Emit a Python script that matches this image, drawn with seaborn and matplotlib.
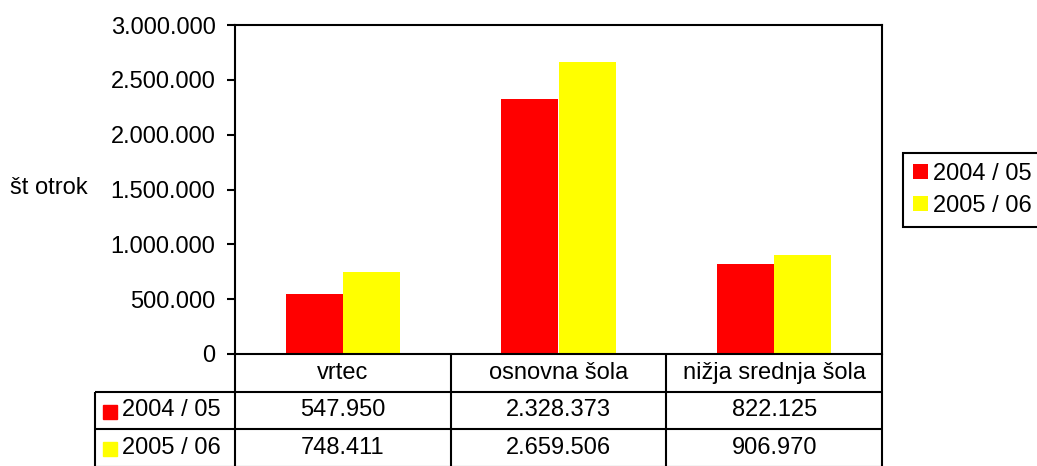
import matplotlib
matplotlib.use("Agg")
import matplotlib.pyplot as plt
from matplotlib.ticker import FuncFormatter
import pandas as pd
import seaborn as sns

# data
categories = ["vrtec", "osnovna šola", "nižja srednja šola"]
years = ["2004 / 05", "2005 / 06"]
values_2004 = [547950, 2328373, 822125]
values_2005 = [748411, 2659506, 906970]
colors = ["#FF0000", "#FFFF00"]

rows = []
for year, vals in zip(years, [values_2004, values_2005]):
    for cat, v in zip(categories, vals):
        rows.append({"stopnja": cat, "leto": year, "otroci": v})
df = pd.DataFrame(rows)


def dots(v, pos=None):
    # thousands separated with dots, like the original
    return f"{int(round(v)):,}".replace(",", ".")


sns.set_theme(style="white")
plt.rcParams["font.family"] = ["Liberation Sans", "DejaVu Sans"]
plt.rcParams["text.color"] = "black"
plt.rcParams["axes.labelcolor"] = "black"
FS = 17

W, H = 1037, 466
fig = plt.figure(figsize=(W / 100, H / 100), dpi=100)
ax = fig.add_axes([235 / W, (H - 354) / H, (882 - 235) / W, (354 - 25) / H])

sns.barplot(data=df, x="stopnja", y="otroci", hue="leto", order=categories,
            hue_order=years, palette=colors, width=0.53, saturation=1,
            linewidth=0, ax=ax)

ax.set_xlim(-0.5, len(categories) - 0.5)
ax.set_ylim(0, 3000000)
ax.set_yticks(range(0, 3000001, 500000))
ax.yaxis.set_major_formatter(FuncFormatter(dots))
ax.set_xticks([])
ax.set_xlabel("")
ax.set_ylabel("")
ax.tick_params(axis="y", direction="out", length=6, width=1.5, pad=8,
               labelsize=FS, colors="black", labelcolor="black", left=True)
for s in ax.spines.values():
    s.set_visible(True)
    s.set_color("black")
    s.set_linewidth(1.5)

handles, labels = ax.get_legend_handles_labels()
ax.get_legend().remove()
leg = fig.legend(handles, labels, loc="upper left",
                 bbox_to_anchor=(903 / W, 1 - 153 / H), borderaxespad=0,
                 fontsize=FS, frameon=True, fancybox=False, edgecolor="black",
                 framealpha=1, handlelength=0.62, handleheight=0.62,
                 handletextpad=0.25, labelspacing=0.42, borderpad=0.42)
leg.get_frame().set_linewidth(1.5)
for t in leg.get_texts():
    t.set_color("black")

fig.text(10 / W, 1 - 188 / H, "št otrok", fontsize=FS, ha="left", va="center",
         color="black")

# data table under the plot
px = len(categories) / (882 - 235)
left = -0.5 - (235 - 95) * px
tax = fig.add_axes([95 / W, -1 / H, (882 - 95) / W, 113 / H])
tax.set_xlim(left, len(categories) - 0.5)
tax.set_ylim(3, 0)
tax.axis("off")

lk = dict(color="black", linewidth=1.5, clip_on=False)
tax.hlines([1, 2, 3], left, len(categories) - 0.5, **lk)
tax.vlines([i - 0.5 for i in range(len(categories) + 1)], 0, 3, **lk)
tax.vlines(left, 1, 3, **lk)

for i, cat in enumerate(categories):
    tax.text(i, 0.5, cat, fontsize=FS, ha="center", va="center", color="black")
for r, (year, vals, c) in enumerate(zip(years, [values_2004, values_2005], colors)):
    y = 1.5 + r
    tax.plot([left + 15 * px], [y + 0.03], marker="s", markersize=10.5,
             color=c, linestyle="none", clip_on=False)
    tax.text(left + 27 * px, y, year, fontsize=FS, ha="left", va="center",
             color="black")
    for i, v in enumerate(vals):
        tax.text(i, y, dots(v), fontsize=FS, ha="center", va="center",
                 color="black")

fig.savefig("out.png", dpi=100, facecolor="white")
